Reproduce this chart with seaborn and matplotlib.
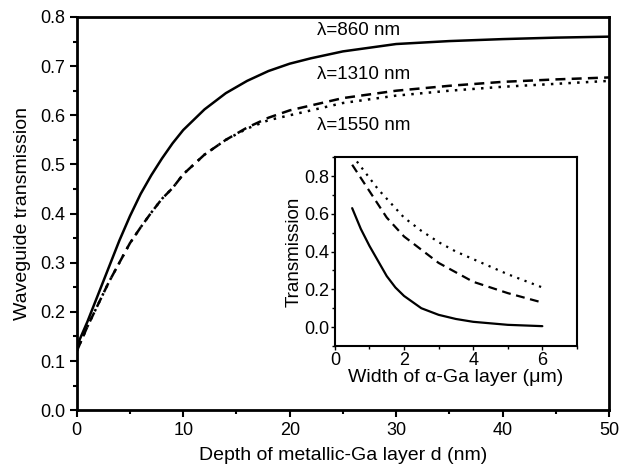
import matplotlib
matplotlib.use("Agg")
import matplotlib.pyplot as plt
from matplotlib.ticker import MultipleLocator
import seaborn as sns
import pandas as pd

# main panel: transmission vs depth of metallic Ga layer
depth = [0, 1, 2, 3, 4, 5, 6, 7, 8, 9, 10, 12, 14, 16, 18, 20, 22, 25, 30, 35, 40, 45, 50]
t_860 = [0.13, 0.18, 0.235, 0.29, 0.345, 0.395, 0.44, 0.478, 0.512, 0.543, 0.57, 0.612, 0.645,
         0.67, 0.69, 0.705, 0.716, 0.73, 0.745, 0.751, 0.755, 0.758, 0.76]
t_1310 = [0.12, 0.17, 0.215, 0.26, 0.30, 0.34, 0.372, 0.402, 0.43, 0.452, 0.48, 0.52, 0.55,
          0.575, 0.595, 0.61, 0.62, 0.635, 0.65, 0.66, 0.668, 0.673, 0.677]
t_1550 = [0.12, 0.17, 0.215, 0.26, 0.30, 0.34, 0.372, 0.402, 0.43, 0.452, 0.48, 0.52, 0.55,
          0.573, 0.59, 0.60, 0.61, 0.625, 0.64, 0.65, 0.658, 0.664, 0.67]

# inset: transmission vs width of alpha-Ga layer
width = [0.5, 0.75, 1.0, 1.25, 1.5, 1.75, 2.0, 2.5, 3.0, 3.5, 4.0, 5.0, 6.0]
w_860 = [0.63, 0.52, 0.43, 0.35, 0.27, 0.21, 0.165, 0.1, 0.065, 0.043, 0.028, 0.012, 0.005]
w_1310 = [0.86, 0.79, 0.72, 0.65, 0.58, 0.53, 0.48, 0.41, 0.34, 0.29, 0.24, 0.18, 0.13]
w_1550 = [0.91, 0.85, 0.79, 0.73, 0.68, 0.63, 0.58, 0.51, 0.45, 0.40, 0.36, 0.28, 0.21]

labels = ["λ=860 nm", "λ=1310 nm", "λ=1550 nm"]
label_pos = [(22.6, 0.772), (22.6, 0.683), (22.6, 0.58)]

sns.set_theme(style="ticks", rc={"axes.edgecolor": "black", "xtick.color": "black",
                                 "ytick.color": "black", "text.color": "black",
                                 "axes.labelcolor": "black"})
plt.rcParams['font.family'] = ['Liberation Sans', 'DejaVu Sans']

main_df = pd.DataFrame({
    "d": depth * 3,
    "T": t_860 + t_1310 + t_1550,
    "wl": [labels[0]] * len(depth) + [labels[1]] * len(depth) + [labels[2]] * len(depth),
})
inset_df = pd.DataFrame({
    "w": width * 3,
    "T": w_860 + w_1310 + w_1550,
    "wl": [labels[0]] * len(width) + [labels[1]] * len(width) + [labels[2]] * len(width),
})

styles = {labels[0]: "", labels[1]: (4, 2.5), labels[2]: (1, 2.5)}
pal = {l: "black" for l in labels}

fig = plt.figure(figsize=(6.19, 4.72), dpi=100)
ax = fig.add_axes([0.124, 0.131, 0.86, 0.833])
sns.lineplot(data=main_df, x="d", y="T", hue="wl", style="wl", dashes=styles,
             palette=pal, linewidth=1.8, legend=False, ax=ax)
ax.set_xlim(0, 50)
ax.set_ylim(0, 0.8)
ax.xaxis.set_major_locator(MultipleLocator(10))
ax.xaxis.set_minor_locator(MultipleLocator(5))
ax.yaxis.set_major_locator(MultipleLocator(0.1))
ax.yaxis.set_minor_locator(MultipleLocator(0.05))
ax.set_yticklabels([f"{v:.1f}" for v in ax.get_yticks()])
ax.tick_params(which="major", direction="out", length=5, width=1.5, labelsize=13)
ax.tick_params(which="minor", direction="out", length=3, width=1.5)
for s in ax.spines.values():
    s.set_linewidth(2)
ax.set_xlabel("Depth of metallic-Ga layer d (nm)", fontsize=14, labelpad=6)
ax.set_ylabel("Waveguide transmission", fontsize=14, labelpad=6)
for txt, (x, y) in zip(labels, label_pos):
    ax.text(x, y, txt, fontsize=13.5, va="center", ha="left")

ins = fig.add_axes([0.541, 0.267, 0.391, 0.40])
sns.lineplot(data=inset_df, x="w", y="T", hue="wl", style="wl", dashes=styles,
             palette=pal, linewidth=1.6, legend=False, ax=ins)
ins.set_xlim(0, 7)
ins.set_ylim(-0.1, 0.9)
ins.xaxis.set_major_locator(MultipleLocator(2))
ins.xaxis.set_minor_locator(MultipleLocator(1))
ins.yaxis.set_minor_locator(MultipleLocator(0.1))
ins.set_yticks([0.0, 0.2, 0.4, 0.6, 0.8])
ins.set_yticklabels(["0.0", "0.2", "0.4", "0.6", "0.8"])
ins.tick_params(which="major", direction="out", length=3, width=1, labelsize=13, pad=1)
ins.tick_params(which="minor", direction="out", length=2, width=1)
for s in ins.spines.values():
    s.set_linewidth(1.5)
ins.set_xlabel("Width of α-Ga layer (μm)", fontsize=14, labelpad=0)
ins.set_ylabel("Transmission", fontsize=13.5, labelpad=1)

fig.savefig("out.png", dpi=100)
